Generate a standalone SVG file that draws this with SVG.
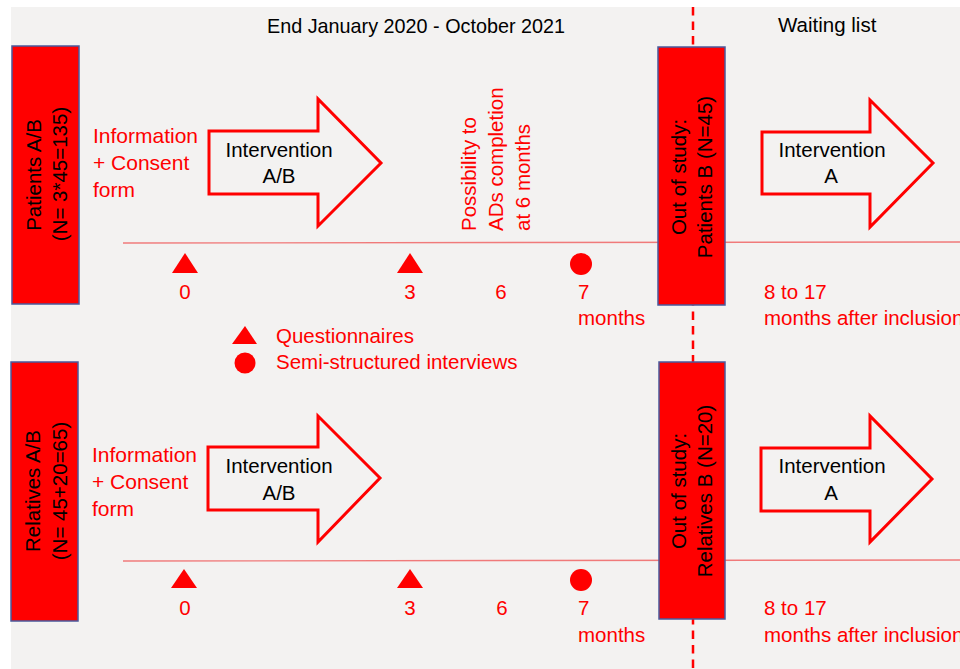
<svg xmlns="http://www.w3.org/2000/svg" width="960" height="669" viewBox="0 0 960 669">
<style>
text{font-family:"Liberation Sans",Arial,sans-serif;font-size:20.5px}
.k{fill:#000}
.r{fill:#ff0000}
.box{fill:#ff0000;stroke:#4a5a9c;stroke-width:1.5}
.arr{fill:#f3f2f1;stroke:#ff0000;stroke-width:3}
.tl{stroke:#f07a7a;stroke-width:1.4;fill:none}
.mk{fill:#ff0000}
</style>
<rect x="11" y="7" width="949" height="662" fill="#f3f2f1"/>
<g id="connectors">
<line class="tl" x1="123" y1="243" x2="960" y2="242"/>
<line class="tl" x1="123" y1="561" x2="960" y2="560"/>
<line x1="693" y1="7" x2="693" y2="669" stroke="#ff0000" stroke-width="2.5" stroke-dasharray="8.5 6"/>
</g>
<g id="title">
<text class="k" x="267" y="33" style="font-size:19.8px">End January 2020 - October 2021</text>
<text class="k" x="778" y="32">Waiting list</text>
</g>
<g id="patients">
<rect class="box" x="12" y="46" width="67" height="258"/>
<text class="k" text-anchor="middle" transform="translate(40.5,175) rotate(-90)">Patients A/B</text>
<text class="k" text-anchor="middle" transform="translate(67,174) rotate(-90)">(N= 3*45=135)</text>
</g>
<g id="info-top">
<text class="r" x="93" y="143" style="font-size:21px">Information</text>
<text class="r" x="93" y="170" style="font-size:21px">+ Consent</text>
<text class="r" x="93" y="197" style="font-size:21px">form</text>
</g>
<g id="arrow-top-ab">
<path class="arr" d="M209 131 H318 V99 L381 163 L318 226 V194 H209 Z"/>
<text class="k" x="279" y="157" text-anchor="middle">Intervention</text>
<text class="k" x="279" y="183" text-anchor="middle">A/B</text>
</g>
<g id="ads-note">
<text class="r" transform="translate(476,231) rotate(-90)">Possibility to</text>
<text class="r" transform="translate(503,231) rotate(-90)">ADs completion</text>
<text class="r" transform="translate(530,231) rotate(-90)">at 6 months</text>
</g>
<g id="timeline-top">
<polygon class="mk" points="185,253 198,273 172,273"/>
<polygon class="mk" points="410,253 423,273 397,273"/>
<circle class="mk" cx="581" cy="264" r="11"/>
<text class="r" x="185" y="299" text-anchor="middle">0</text>
<text class="r" x="410" y="299" text-anchor="middle">3</text>
<text class="r" x="501" y="299" text-anchor="middle">6</text>
<text class="r" x="578" y="299">7</text>
<text class="r" x="578" y="325">months</text>
<text class="r" x="764" y="299">8 to 17</text>
<text class="r" x="764" y="325">months after inclusion</text>
</g>
<g id="out-patients">
<rect class="box" x="658" y="47" width="67" height="258"/>
<text class="k" text-anchor="middle" transform="translate(686,177) rotate(-90)">Out of study:</text>
<text class="k" text-anchor="middle" transform="translate(712,177) rotate(-90)">Patients B (N=45)</text>
</g>
<g id="arrow-top-a">
<path class="arr" d="M762 132 H870 V100 L933 163 L870 227 V194 H762 Z"/>
<text class="k" x="832" y="157" text-anchor="middle">Intervention</text>
<text class="k" x="831" y="183" text-anchor="middle">A</text>
</g>
<g id="legend">
<polygon class="mk" points="245,326 257,344 232,344"/>
<circle class="mk" cx="245" cy="363" r="10.5"/>
<text class="r" x="276" y="343">Questionnaires</text>
<text class="r" x="276" y="369">Semi-structured interviews</text>
</g>
<g id="relatives">
<rect class="box" x="11" y="362" width="67" height="259"/>
<text class="k" text-anchor="middle" transform="translate(40,491) rotate(-90)">Relatives A/B</text>
<text class="k" text-anchor="middle" transform="translate(67,491) rotate(-90)">(N= 45+20=65)</text>
</g>
<g id="info-bottom">
<text class="r" x="92" y="462" style="font-size:21px">Information</text>
<text class="r" x="92" y="489" style="font-size:21px">+ Consent</text>
<text class="r" x="92" y="516" style="font-size:21px">form</text>
</g>
<g id="arrow-bottom-ab">
<path class="arr" d="M208 447 H318 V416 L380 478 L318 542 V510 H208 Z"/>
<text class="k" x="279" y="473" text-anchor="middle">Intervention</text>
<text class="k" x="279" y="500" text-anchor="middle">A/B</text>
</g>
<g id="timeline-bottom">
<polygon class="mk" points="184,569 197,588 171,588"/>
<polygon class="mk" points="410,569 423,588 397,588"/>
<circle class="mk" cx="581" cy="580" r="11"/>
<text class="r" x="185" y="615" text-anchor="middle">0</text>
<text class="r" x="410" y="615" text-anchor="middle">3</text>
<text class="r" x="502" y="615" text-anchor="middle">6</text>
<text class="r" x="578" y="615">7</text>
<text class="r" x="578" y="642">months</text>
<text class="r" x="764" y="615">8 to 17</text>
<text class="r" x="764" y="642">months after inclusion</text>
</g>
<g id="out-relatives">
<rect class="box" x="659" y="362" width="66" height="257"/>
<text class="k" text-anchor="middle" transform="translate(686,491) rotate(-90)">Out of study:</text>
<text class="k" text-anchor="middle" transform="translate(712,491) rotate(-90)">Relatives B (N=20)</text>
</g>
<g id="arrow-bottom-a">
<path class="arr" d="M761 448 H870 V416 L932 479 L870 542 V511 H761 Z"/>
<text class="k" x="832" y="473" text-anchor="middle">Intervention</text>
<text class="k" x="831" y="500" text-anchor="middle">A</text>
</g>
</svg>
